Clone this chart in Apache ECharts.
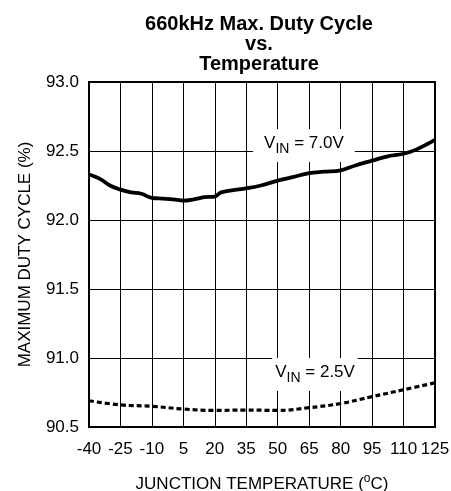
<!DOCTYPE html>
<html>
<head>
<meta charset="utf-8">
<title>660kHz Max. Duty Cycle vs. Temperature</title>
<script src="https://cdn.jsdelivr.net/npm/echarts@6/dist/echarts.min.js"></script>
<style>
  html, body { margin: 0; padding: 0; background: #fff; }
  #main { width: 451px; height: 491px; }
</style>
</head>
<body>
<div id="main"></div>
<script>
var tempTicks = [-40, -25, -10, 5, 20, 35, 50, 65, 80, 95, 110, 125];

var vin7Temp = [-40, -35, -30, -25, -20, -15, -10, -5, 0, 5, 10, 15, 20, 23, 28, 35, 42, 50, 57, 65, 72, 80, 87, 95, 102, 110, 116, 125];
var vin7Duty = [92.33, 92.30, 92.25, 92.22, 92.20, 92.19, 92.16, 92.155, 92.15, 92.14, 92.15, 92.165, 92.17, 92.20, 92.215, 92.23, 92.25, 92.285, 92.31, 92.34, 92.35, 92.36, 92.395, 92.43, 92.46, 92.48, 92.51, 92.58];

var vin25Temp = [-40, -25, -10, 5, 20, 35, 50, 65, 80, 95, 110, 125];
var vin25Duty = [90.69, 90.66, 90.65, 90.63, 90.62, 90.623, 90.62, 90.64, 90.67, 90.72, 90.77, 90.82];

// x axis runs on (T + 40) so the 15-degree ticks start at 0
var X_OFFSET = 40;

function pairs(ts, vs) {
  var out = [];
  for (var i = 0; i < ts.length; i++) {
    out.push([ts[i] + X_OFFSET, vs[i]]);
  }
  return out;
}

var font = 'Liberation Sans, Arial, sans-serif';
var vinRich = {
  v: { fontSize: 17, fontFamily: font, color: '#000', verticalAlign: 'top', lineHeight: 20 },
  sub: { fontSize: 14, fontFamily: font, color: '#000', verticalAlign: 'top', padding: [7, 0, 0, 0] }
};

var myChart = echarts.init(document.getElementById('main'));

var option = {
  animation: false,
  backgroundColor: '#fff',
  title: {
    text: '660kHz Max. Duty Cycle\nvs.\nTemperature',
    left: 254,
    textAlign: 'center',
    top: 9,
    textStyle: {
      fontFamily: font,
      fontSize: 20,
      fontWeight: 'bold',
      color: '#000',
      lineHeight: 20
    }
  },
  grid: {
    left: 89,
    right: 16,
    top: 82,
    bottom: 64,
    containLabel: false,
    outerBoundsMode: 'none',
    show: true,
    borderColor: '#000',
    borderWidth: 2,
    backgroundColor: 'transparent'
  },
  xAxis: {
    type: 'value',
    min: 0,
    max: 165,
    interval: 15,
    name: 'JUNCTION TEMPERATURE ({sup|o}C)',
    nameLocation: 'middle',
    nameGap: 46,
    nameTextStyle: {
      fontFamily: font,
      fontSize: 17,
      color: '#000',
      verticalAlign: 'top',
      rich: {
        sup: { fontSize: 12, fontFamily: font, color: '#000', padding: [0, 0, 10, 0] }
      }
    },
    axisLine: { show: false },
    axisTick: { show: false },
    axisLabel: {
      margin: 14,
      fontFamily: font,
      fontSize: 17,
      color: '#000',
      formatter: function (v) { return String(v - X_OFFSET); }
    },
    splitLine: { show: true, lineStyle: { color: '#000', width: 1 } }
  },
  yAxis: {
    type: 'value',
    min: 90.5,
    max: 93.0,
    interval: 0.5,
    name: 'MAXIMUM DUTY CYCLE (%)',
    nameLocation: 'middle',
    nameGap: 55,
    nameTextStyle: {
      fontFamily: font,
      fontSize: 17,
      color: '#000'
    },
    axisLine: { show: false },
    axisTick: { show: false },
    axisLabel: {
      margin: 10,
      fontFamily: font,
      fontSize: 17,
      color: '#000',
      formatter: function (v) { return v.toFixed(1); }
    },
    splitLine: { show: true, lineStyle: { color: '#000', width: 1 } }
  },
  series: [
    {
      name: 'VIN = 7.0V',
      type: 'line',
      data: pairs(vin7Temp, vin7Duty),
      smooth: 0.4,
      showSymbol: false,
      lineStyle: { color: '#000', width: 3.8 },
      markPoint: {
        symbol: 'rect',
        symbolSize: 0,
        silent: true,
        data: [{ coord: [62.5 + X_OFFSET, 92.54] }],
        label: {
          show: true,
          position: 'inside',
          formatter: '{v|V}{sub|IN}{v| = 7.0V}',
          backgroundColor: '#fff',
          padding: [6, 11, 6, 11],
          rich: vinRich
        }
      }
    },
    {
      name: 'VIN = 2.5V',
      type: 'line',
      data: pairs(vin25Temp, vin25Duty),
      smooth: 0.4,
      showSymbol: false,
      lineStyle: { color: '#000', width: 3.2, type: [5, 3] },
      markPoint: {
        symbol: 'rect',
        symbolSize: 0,
        silent: true,
        data: [{ coord: [67.8 + X_OFFSET, 90.88] }],
        label: {
          show: true,
          position: 'inside',
          formatter: '{v|V}{sub|IN}{v| = 2.5V}',
          backgroundColor: '#fff',
          padding: [6, 3, 6, 3],
          rich: vinRich
        }
      }
    }
  ]
};

myChart.setOption(option);
</script>
</body>
</html>
